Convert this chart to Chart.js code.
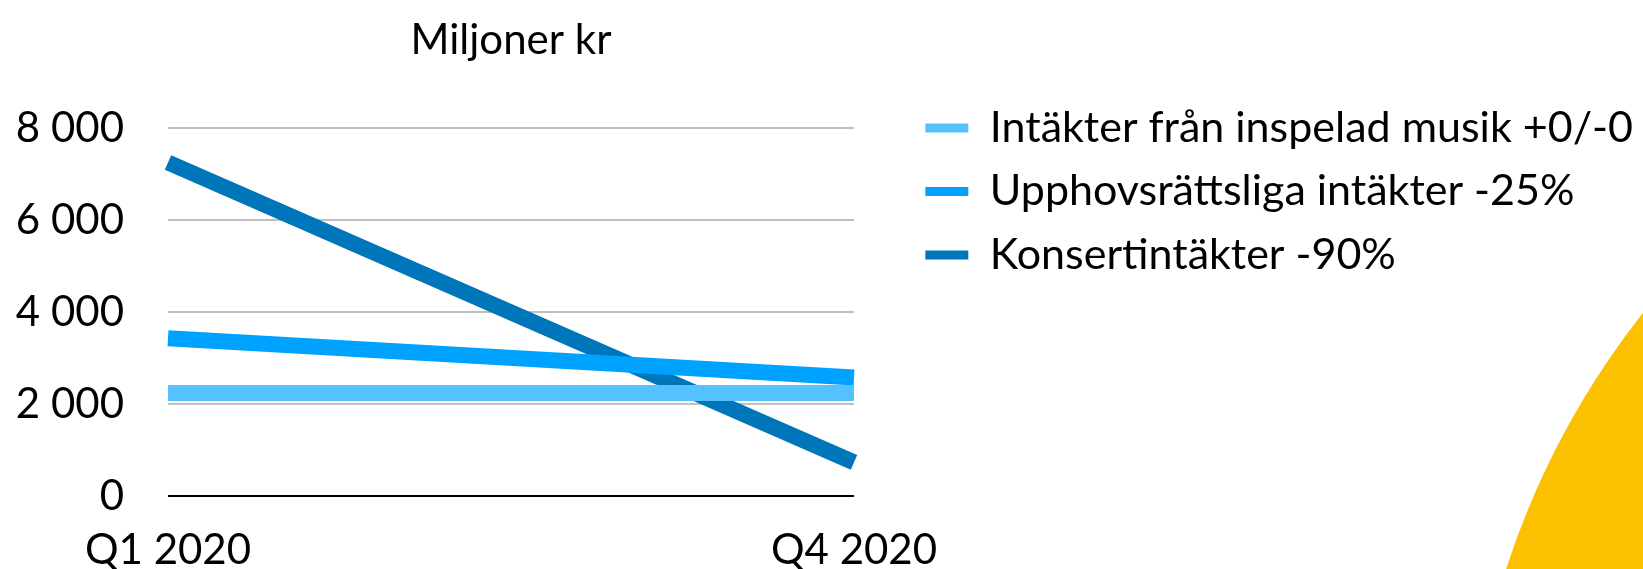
<!DOCTYPE html>
<html>
<head>
<meta charset="utf-8">
<script src="https://cdn.jsdelivr.net/npm/chart.js@4"></script>
<style>
    html, body { margin: 0; padding: 0; background: #ffffff; overflow: hidden; }
    #wrap { position: relative; width: 1643px; height: 569px; overflow: hidden; }
    /* decorative yellow disc in the lower right corner */
    #sun { position: absolute; left: 1466px; top: -1px; width: 1648px; height: 1648px;
           border-radius: 50%; background: #fbc000; }
    #chart { position: absolute; left: 0; top: 0; }
</style>
</head>
<body>
<div id="wrap">
    <div id="sun"></div>
    <canvas id="chart" width="1643" height="569"></canvas>
</div>
<script>
// Data
const quarters = ['Q1 2020', 'Q4 2020'];
const inspeladMusik = [2240, 2240];
const upphovsratt = [3430, 2575];
const konserter = [7250, 730];
const seriesNames = [
    'Intäkter från inspelad musik +0/-0',
    'Upphovsrättsliga intäkter -25%',
    'Konsertintäkter -90%'
];
const yTicks = [0, 2000, 4000, 6000, 8000];
const yTickLabels = ['0', '2 000', '4 000', '6 000', '8 000'];

// Colors
const colors = {
    light: '#56c1ff',
    mid: '#00a2ff',
    dark: '#0076ba',
    grid: '#bfbfbf',
    text: '#000000'
};

Chart.defaults.font.family = "Lato, 'Liberation Sans', sans-serif";
Chart.defaults.color = colors.text;

const lineStyle = {
    fill: false,
    tension: 0,
    borderWidth: 16,
    borderCapStyle: 'butt',
    pointRadius: 0,
    pointHoverRadius: 0
};

const ctx = document.getElementById('chart').getContext('2d');
new Chart(ctx, {
    type: 'line',
    data: {
        labels: quarters,
        datasets: [
            { ...lineStyle, label: seriesNames[0], data: inspeladMusik, borderColor: colors.light, backgroundColor: colors.light },
            { ...lineStyle, label: seriesNames[1], data: upphovsratt, borderColor: colors.mid, backgroundColor: colors.mid },
            { ...lineStyle, label: seriesNames[2], data: konserter, borderColor: colors.dark, backgroundColor: colors.dark }
        ]
    },
    options: {
        responsive: false,
        animation: false,
        events: [],
        layout: { padding: 0 },
        plugins: {
            title: {
                display: true,
                text: 'Miljoner kr',
                fullSize: false,
                color: colors.text,
                font: { size: 42, weight: 'normal', lineHeight: 1.2 },
                padding: { top: 15, bottom: 62.6 }
            },
            legend: {
                position: 'right',
                align: 'start',
                maxWidth: 900,
                title: {
                    display: true,
                    text: ' ',
                    font: { size: 10, lineHeight: 1 },
                    padding: { top: 76, bottom: 0 }
                },
                labels: {
                    boxWidth: 43,
                    boxHeight: 9,
                    padding: 20.5,
                    color: colors.text,
                    font: { size: 43, lineHeight: 1 },
                    generateLabels: function(chart) {
                        return Chart.defaults.plugins.legend.labels.generateLabels(chart)
                            .map(item => ({ ...item, lineWidth: 0 }));
                    }
                }
            },
            tooltip: { enabled: false }
        },
        scales: {
            x: {
                type: 'category',
                offset: false,
                grid: { display: false, drawTicks: false },
                border: { display: false },
                ticks: {
                    padding: 29,
                    maxRotation: 0,
                    autoSkip: false,
                    font: { size: 42, lineHeight: 1.2 }
                },
                afterFit: function(scale) { scale.height = 73; }
            },
            y: {
                min: 0,
                max: 8000,
                grid: {
                    drawTicks: false,
                    lineWidth: 2,
                    color: function(c) {
                        return c.tick && c.tick.value === 0 ? '#000000' : colors.grid;
                    }
                },
                border: { display: false },
                ticks: {
                    stepSize: 2000,
                    padding: 44,
                    font: { size: 42, lineHeight: 1.2 },
                    callback: function(value) {
                        const i = yTicks.indexOf(value);
                        return i >= 0 ? yTickLabels[i] : '';
                    }
                },
                afterFit: function(scale) { scale.width = 168; }
            },
            // empty right axis: keeps the gap between plot and legend
            spacer: {
                type: 'linear',
                position: 'right',
                grid: { display: false, drawTicks: false },
                border: { display: false },
                ticks: { display: false },
                afterFit: function(scale) {
                    scale.width = Math.max(0, scale.chart.width - scale.chart.legend.width - 854);
                }
            }
        }
    }
});
</script>
</body>
</html>
